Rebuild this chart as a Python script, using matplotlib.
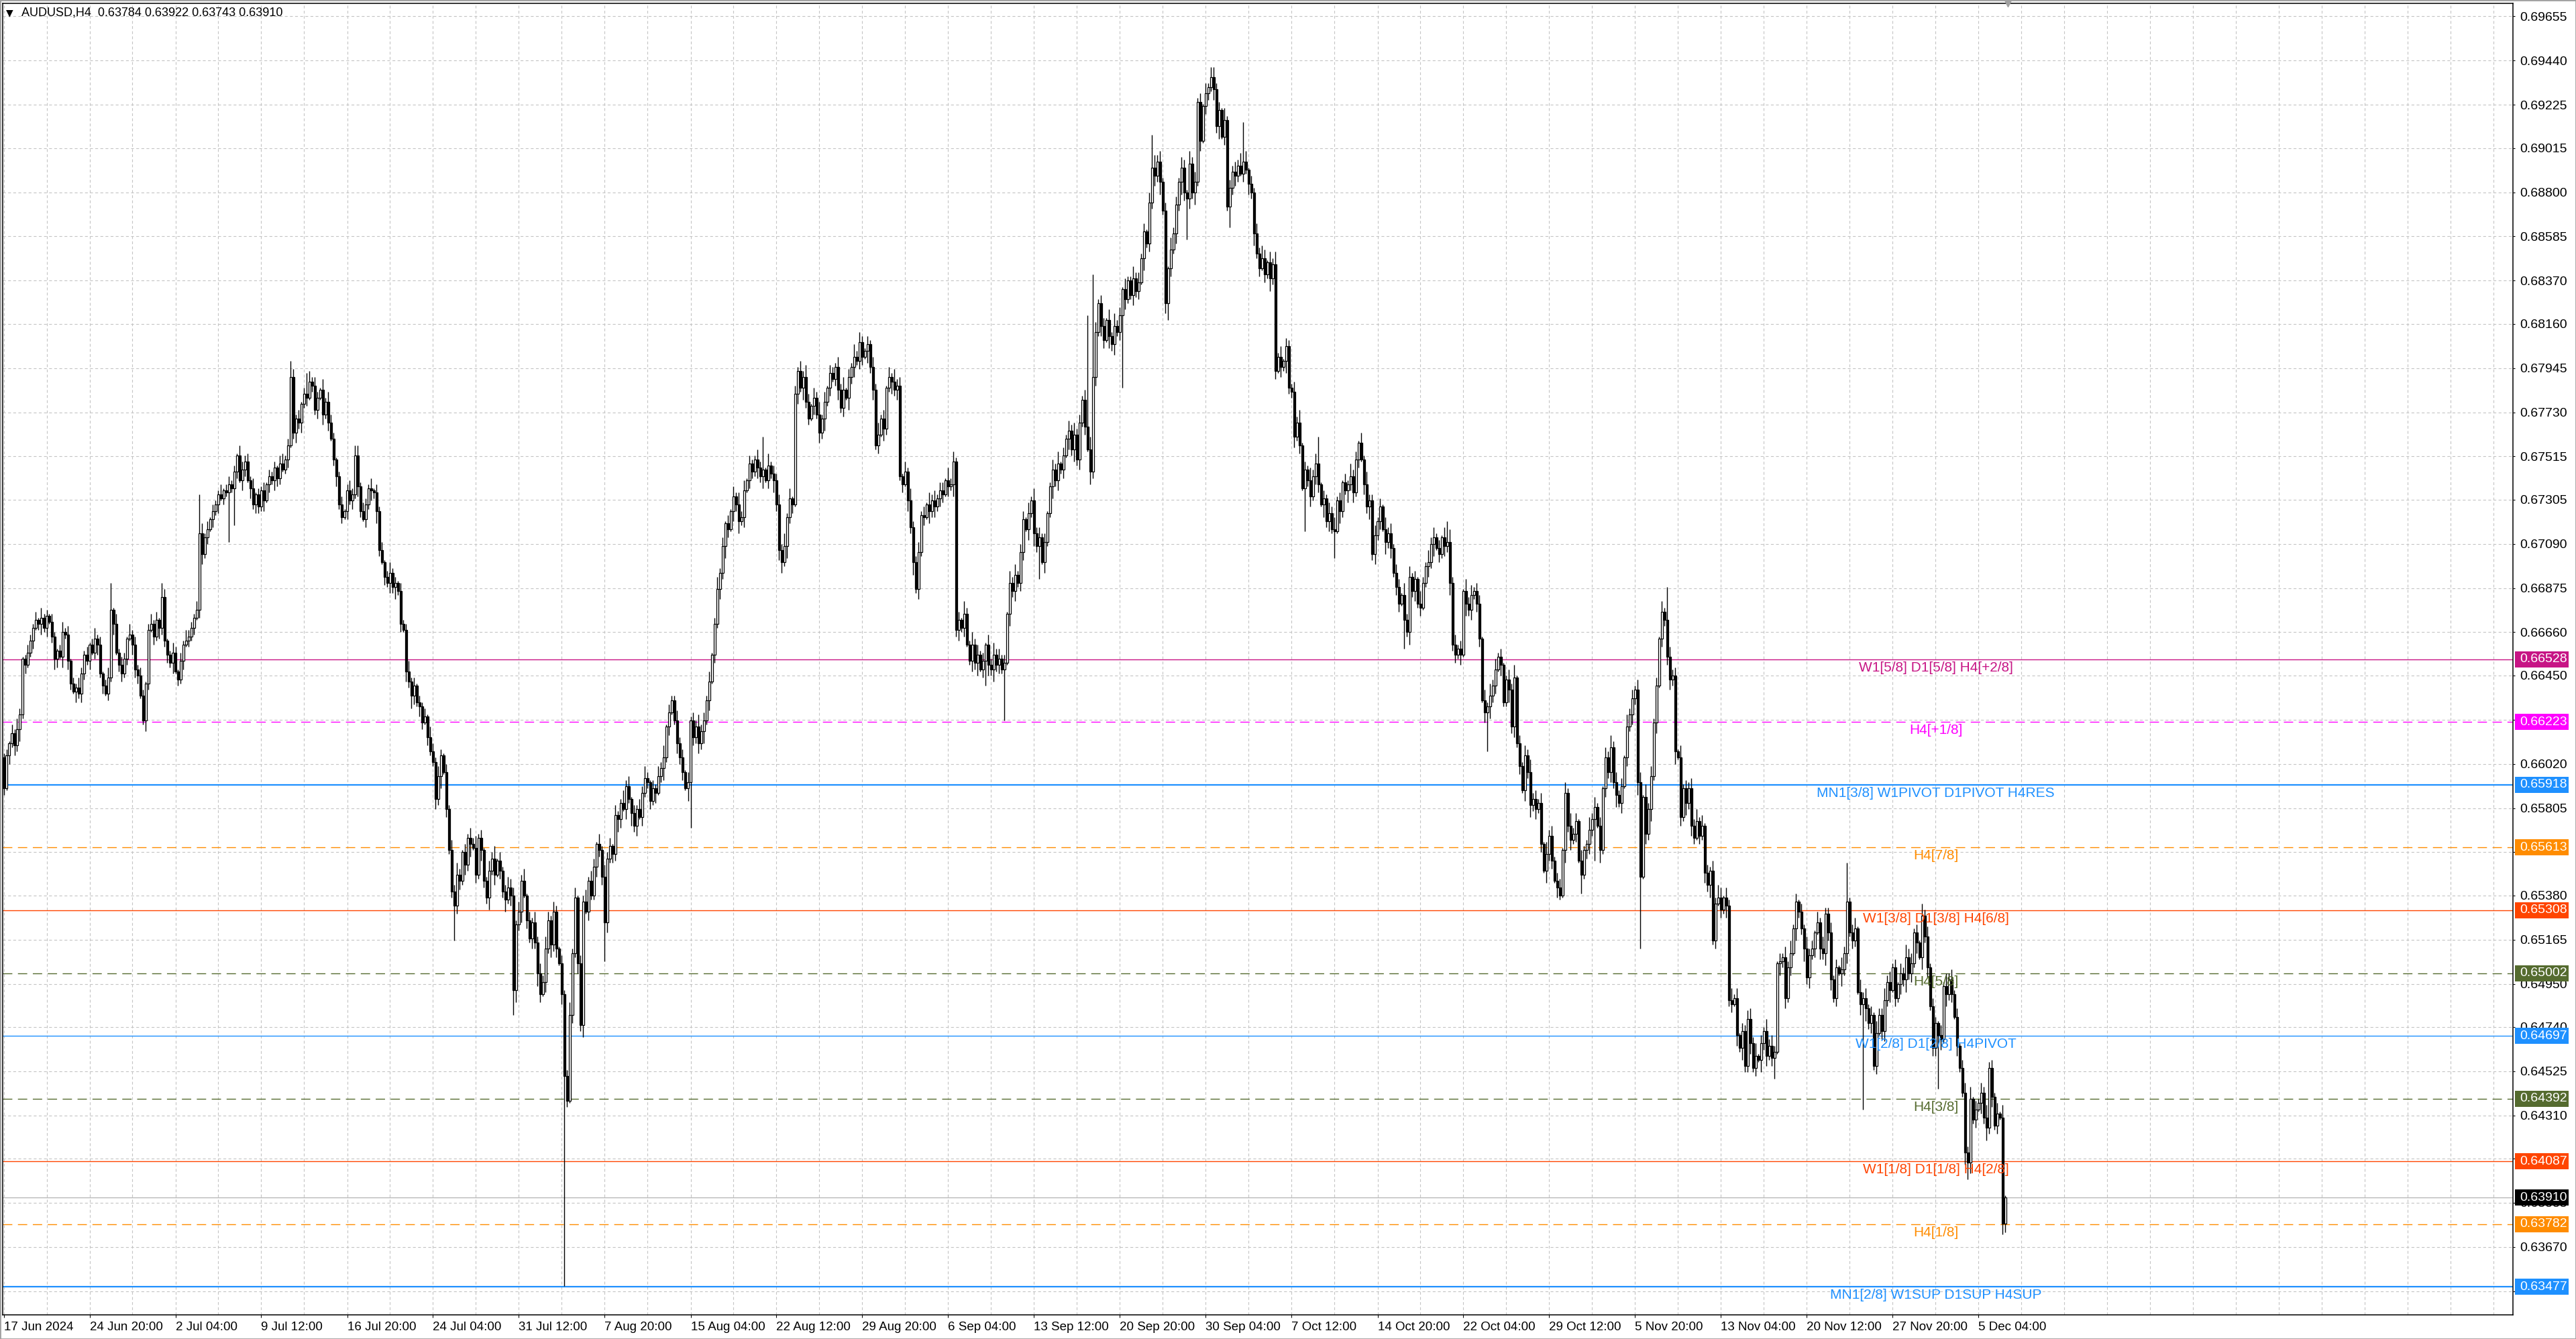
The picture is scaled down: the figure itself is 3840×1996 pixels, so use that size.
import matplotlib
matplotlib.use("Agg")
import matplotlib.pyplot as plt
import matplotlib.transforms as mtransforms
from matplotlib.patches import Rectangle

plt.rcParams["font.family"] = ["Liberation Sans", "DejaVu Sans"]
plt.rcParams["lines.scale_dashes"] = False

# ---------------- data (prices in pips, 1 pip = 0.0001) ----------------
FIRST_OPEN = 6605
CLOSES = [
    6590, 6606, 6612, 6617, 6611, 6619, 6626, 6653, 6650, 6656,
    6662, 6668, 6672, 6670, 6673, 6668, 6674, 6671, 6664, 6653,
    6657, 6654, 6666, 6665, 6652, 6641, 6637, 6639, 6636, 6646,
    6655, 6652, 6660, 6656, 6663, 6660, 6646, 6640, 6636, 6644,
    6677, 6670, 6656, 6650, 6646, 6653, 6663, 6665, 6660, 6648,
    6645, 6635, 6623, 6641, 6667, 6670, 6664, 6672, 6668, 6683,
    6662, 6655, 6651, 6656, 6647, 6643, 6652, 6660, 6662, 6664,
    6668, 6673, 6677, 6714, 6704, 6712, 6716, 6721, 6725, 6728,
    6733, 6731, 6735, 6734, 6738, 6736, 6744, 6752, 6740, 6745,
    6749, 6740, 6736, 6728, 6733, 6727, 6735, 6730, 6738, 6742,
    6740, 6746, 6741, 6748, 6745, 6750, 6757, 6790, 6763, 6770,
    6768, 6777, 6782, 6780, 6788, 6786, 6774, 6780, 6784, 6772,
    6778, 6768, 6760, 6750, 6742, 6728, 6722, 6725, 6735, 6730,
    6733, 6752, 6737, 6725, 6721, 6728, 6736, 6735, 6734, 6725,
    6706, 6700, 6693, 6690, 6695, 6688, 6690, 6686, 6670, 6667,
    6647, 6642, 6635, 6640, 6632, 6630, 6622, 6625, 6615, 6608,
    6603, 6585, 6596, 6606, 6598, 6580, 6560, 6540, 6533, 6548,
    6545, 6559, 6553, 6566, 6563, 6561, 6548, 6566, 6560, 6545,
    6537, 6550, 6556, 6548, 6555, 6550, 6540, 6536, 6542, 6538,
    6492, 6524, 6530, 6545, 6538, 6526, 6517, 6525, 6515, 6500,
    6490, 6496, 6512, 6526, 6514, 6530, 6512, 6505, 6490, 6450,
    6438, 6480, 6510, 6537, 6505, 6475, 6535, 6530, 6545, 6538,
    6552, 6563, 6560, 6547, 6525, 6556, 6562, 6558, 6577, 6575,
    6583, 6580, 6591, 6585, 6578, 6572, 6580, 6576, 6588, 6595,
    6593, 6584, 6590, 6588, 6596, 6600, 6605, 6620, 6627, 6633,
    6623, 6612, 6605, 6598, 6590, 6593, 6623, 6615, 6620, 6612,
    6618, 6623, 6633, 6642, 6655, 6670, 6687, 6695, 6708, 6719,
    6716, 6725, 6732, 6728, 6720, 6722, 6735, 6740, 6748, 6744,
    6750, 6746, 6742, 6745, 6740, 6747, 6743, 6740, 6728, 6706,
    6700, 6708, 6722, 6731, 6728, 6782, 6793, 6785, 6790, 6778,
    6770, 6776, 6780, 6772, 6763, 6770, 6778, 6785, 6792, 6789,
    6795, 6784, 6775, 6784, 6780, 6790, 6795, 6800, 6798, 6807,
    6800, 6803, 6806, 6795, 6784, 6757, 6762, 6770, 6765, 6785,
    6790, 6788, 6784, 6786, 6742, 6738, 6744, 6730, 6717, 6700,
    6687, 6705, 6723, 6722, 6728, 6725, 6730, 6727, 6731, 6735,
    6733, 6740, 6737, 6738, 6749, 6667, 6672, 6668, 6675, 6660,
    6652, 6660, 6651, 6655, 6648, 6652, 6660, 6650, 6648, 6655,
    6650, 6653, 6648, 6651, 6675, 6690, 6686, 6694, 6690, 6705,
    6721, 6716, 6724, 6730, 6714, 6708, 6712, 6700, 6710, 6724,
    6737, 6745, 6740, 6748, 6745, 6752, 6760, 6764, 6755, 6762,
    6750, 6768, 6779, 6766, 6755, 6744, 6790, 6812, 6826, 6815,
    6808, 6818, 6810, 6806, 6815, 6812, 6820, 6833, 6828, 6837,
    6830, 6838, 6832, 6836, 6848, 6861, 6855, 6875, 6892, 6888,
    6895, 6885, 6871, 6826, 6843, 6852, 6860, 6874, 6885, 6892,
    6880, 6877, 6894, 6880, 6885, 6924, 6905, 6922, 6928, 6931,
    6936, 6930, 6912, 6920, 6907, 6915, 6873, 6882, 6890, 6888,
    6893, 6889, 6895, 6891, 6884, 6880, 6860, 6850, 6843, 6848,
    6840, 6846, 6838, 6845, 6793, 6800, 6795, 6798, 6805, 6785,
    6783, 6761, 6768, 6757, 6736, 6745, 6740, 6732, 6742, 6748,
    6738, 6728, 6731, 6720, 6724, 6716, 6715, 6730, 6725, 6739,
    6735, 6738, 6742, 6734, 6750, 6758, 6750, 6738, 6727, 6730,
    6704, 6713, 6720, 6727, 6716, 6710, 6714, 6707, 6695, 6688,
    6680, 6684, 6672, 6666, 6693, 6686, 6692, 6680, 6678, 6690,
    6698, 6700, 6709, 6712, 6707, 6704, 6712, 6708, 6710, 6690,
    6660, 6655, 6658, 6655, 6686, 6680, 6677, 6684, 6686, 6680,
    6663, 6633, 6627, 6630, 6635, 6640, 6648, 6654, 6650, 6632,
    6643, 6638, 6620, 6644, 6612, 6601, 6589, 6606, 6598, 6582,
    6585, 6580, 6583, 6563, 6550, 6558, 6567, 6555, 6545, 6542,
    6538, 6560, 6588, 6572, 6565, 6568, 6574, 6555, 6548, 6560,
    6563, 6570, 6575, 6581, 6572, 6560, 6590, 6605, 6598, 6610,
    6593, 6587, 6583, 6591, 6605, 6620, 6626, 6634, 6638, 6593,
    6547, 6586, 6568, 6580, 6596, 6622, 6640, 6663, 6676, 6672,
    6654, 6643, 6645, 6608, 6605, 6576, 6590, 6583, 6590, 6572,
    6566, 6574, 6567, 6572, 6549, 6543, 6550, 6516, 6534, 6537,
    6531, 6537, 6533, 6487, 6485, 6488, 6470, 6464, 6472, 6455,
    6478, 6466, 6454, 6460, 6458, 6466, 6472, 6460, 6465, 6459,
    6462, 6505, 6506, 6508, 6488, 6503, 6510, 6522, 6535, 6530,
    6522, 6512, 6498, 6509, 6512, 6520, 6525, 6512, 6510, 6529,
    6520, 6497, 6488, 6503, 6500, 6502, 6510, 6535, 6520, 6516,
    6522, 6491, 6485, 6488, 6483, 6476, 6480, 6455, 6471, 6480,
    6472, 6487, 6496, 6492, 6503, 6488, 6495, 6500, 6497, 6508,
    6500, 6505, 6520, 6515, 6508, 6528, 6518, 6503, 6484, 6464,
    6476, 6470, 6468, 6494, 6490, 6497, 6490, 6479, 6465, 6454,
    6442, 6413, 6408, 6439, 6429, 6434, 6437, 6442, 6430, 6425,
    6454, 6440, 6426, 6432, 6430, 6378.4, 6391.0,
]

# wick lengths in pips above / below the body, one digit per bar
WICK_UP = "".join([
    "2314253124", "3241523142", "1352413253", "2413524135", "3152431524",
    "2431352413", "4125314253", "3241524132", "2513423154", "3425132413",
    "2314523142", "4132524315", "2543124135", "3152432514", "2413523142",
    "3524132415", "4253142536", "3142536241", "2536142354", "4253614253",
    "5364253142", "3625143625", "4152634152", "2635142536", "3142536142",
    "2534152436", "3425136241", "4152635142", "2534162435", "3625142536",
    "4153625143", "2536142635", "3142536241", "5263415263", "3524163524",
    "4163524163", "2635241536", "3524163524", "4152635241", "2536142536",
    "3425163524", "4152634152", "2635241536", "3524163425", "4163524152",
    "2534162435", "3625142536", "4153625143", "2536142635", "3142536241",
    "4263415263", "3524163524", "4163524163", "2635241536", "3524163524",
    "4152635241", "2536142536", "3425163524", "4152634152", "2635241536",
    "3524163425", "5163524152", "4534162435", "3625142536", "5153625143",
    "4536142635", "3142536241", "4263415263", "3524163524", "5163524163",
    "3635241536", "4524163524", "3152635241", "4536142536", "3425163",
])
WICK_DN = "".join([
    "3142536241", "2413524135", "4152431524", "3241352413", "2513423154",
    "4125314253", "3425132413", "2314523142", "4132524315", "3152432514",
    "2543124135", "3524132415", "2413523142", "4253142536", "3142536241",
    "5364253142", "2536142354", "4253614253", "3625143625", "2635142536",
    "4152634152", "3142536142", "2534152436", "4152635142", "3425136241",
    "2534162435", "3625142536", "4153625143", "2536142635", "5263415263",
    "3142536241", "3524163524", "4163524163", "2635241536", "3524163524",
    "4152635241", "2536142536", "3425163524", "4152634152", "2635241536",
    "3524163425", "4163524152", "2534162435", "3625142536", "4153625143",
    "2536142635", "3142536241", "4263415263", "3524163524", "4163524163",
    "2635241536", "3524163524", "4152635241", "2536142536", "3425163524",
    "4152634152", "2635241536", "3524163425", "5163524152", "4534162435",
    "3625142536", "5153625143", "4536142635", "3142536241", "4263415263",
    "3524163524", "5163524163", "3635241536", "4524163524", "3152635241",
    "4536142536", "3425163524", "4152634152", "2635241536", "3524163",
])

# long wicks (bar index -> price in pips)
SPIKE_HIGH = {40: 6690, 59: 6690, 73: 6733, 107: 6798, 113: 6792, 131: 6757,
              283: 6761, 404: 6820, 406: 6840, 428: 6908, 450: 6941, 462: 6914,
              490: 6761, 538: 6720, 620: 6688, 687: 6554, 746: 6392.2}
SPIKE_LOW = {84: 6710, 86: 6718, 168: 6516, 190: 6480, 209: 6348, 224: 6506,
             256: 6571, 340: 6685, 361: 6647, 366: 6640, 373: 6623, 386: 6692,
             417: 6785, 434: 6818, 441: 6857, 457: 6863, 485: 6715, 496: 6702,
             522: 6658, 553: 6608, 578: 6544, 580: 6536, 588: 6539, 593: 6555,
             610: 6512, 660: 6449, 693: 6434, 721: 6444, 732: 6400, 745: 6373,
             746: 6374.3}

Y_TICKS = [0.69655, 0.69440, 0.69225, 0.69015, 0.68800, 0.68585, 0.68370,
           0.68160, 0.67945, 0.67730, 0.67515, 0.67305, 0.67090, 0.66875,
           0.66660, 0.66450, 0.66235, 0.66020, 0.65805, 0.65590, 0.65380,
           0.65165, 0.64950, 0.64740, 0.64525, 0.64310, 0.64100, 0.63885,
           0.63670, 0.63455]
# scale values that sit completely under a price box in the reference
Y_HIDDEN = [0.65590, 0.63455]

X_LABELS = ["17 Jun 2024", "24 Jun 20:00", "2 Jul 04:00", "9 Jul 12:00",
            "16 Jul 20:00", "24 Jul 04:00", "31 Jul 12:00", "7 Aug 20:00",
            "15 Aug 04:00", "22 Aug 12:00", "29 Aug 20:00", "6 Sep 04:00",
            "13 Sep 12:00", "20 Sep 20:00", "30 Sep 04:00", "7 Oct 12:00",
            "14 Oct 20:00", "22 Oct 04:00", "29 Oct 12:00", "5 Nov 20:00",
            "13 Nov 04:00", "20 Nov 12:00", "27 Nov 20:00", "5 Dec 04:00"]

LEVEL_PRICES = [0.66528, 0.66223, 0.65918, 0.65613, 0.65308, 0.65002,
                0.64697, 0.64392, 0.64087, 0.63782, 0.63477]
LEVEL_NAMES = ["W1[5/8] D1[5/8] H4[+2/8]", "H4[+1/8]",
               "MN1[3/8] W1PIVOT D1PIVOT H4RES", "H4[7/8]",
               "W1[3/8] D1[3/8] H4[6/8]", "H4[5/8]",
               "W1[2/8] D1[2/8] H4PIVOT", "H4[3/8]",
               "W1[1/8] D1[1/8] H4[2/8]", "H4[1/8]",
               "MN1[2/8] W1SUP D1SUP H4SUP"]
LEVEL_COLORS = ["#C71585", "#FF00FF", "#1E90FF", "#FF8C00", "#FF4500",
                "#556B2F", "#1E90FF", "#556B2F", "#FF4500", "#FF8C00",
                "#1E90FF"]
LEVEL_DASHED = [False, True, False, True, False, True, False, True, False,
                True, False]
LEVEL_WIDTH = [1.0, 1.0, 1.6, 1.0, 1.0, 1.0, 1.0, 1.0, 1.0, 1.0, 1.6]

LAST_PRICE = 0.63910
HEADER = "AUDUSD,H4  0.63784 0.63922 0.63743 0.63910"

# ---------------- layout (pixels) ----------------
W, H = 3840, 1996
AX_L, AX_R, AX_T, AX_B = 4, 3746, 5, 1960
BAR0_PX, BAR_PX = 5.5, 4.0
Y_TOP, Y_BOTTOM = 0.697186, 0.633401
GRID = "#c4c4c4"
LABEL_BAR = 720

fig = plt.figure(figsize=(W / 100, H / 100), dpi=100)
fig.patch.set_facecolor("white")
ax = fig.add_axes([AX_L / W, 1 - AX_B / H, (AX_R - AX_L) / W, (AX_B - AX_T) / H])
ax.set_xlim((AX_L - BAR0_PX) / BAR_PX, (AX_R - BAR0_PX) / BAR_PX)
ax.set_ylim(Y_BOTTOM, Y_TOP)
for s in ax.spines.values():
    s.set_linewidth(1.1)
    s.set_color("black")

# grid
for v in Y_TICKS:
    ax.axhline(v, color=GRID, lw=0.8, ls=(0, (3, 2.5)), zorder=0)
xmax = ax.get_xlim()[1]
k = 0
while 16 * k <= xmax:
    ax.axvline(16 * k, color=GRID, lw=0.8, ls=(0, (3, 2.5)), zorder=0)
    k += 1

# candles
n = len(CLOSES)
opens = [FIRST_OPEN] + CLOSES[:-1]
xs, lows, highs = [], [], []
bull_x, bull_b, bull_h, bear_x, bear_b, bear_h = [], [], [], [], [], []
for i in range(n):
    o, c = opens[i], CLOSES[i]
    up = int(WICK_UP[i]) if i < len(WICK_UP) else 2
    dn = int(WICK_DN[i]) if i < len(WICK_DN) else 2
    hi = SPIKE_HIGH.get(i, max(o, c) + up)
    lo = SPIKE_LOW.get(i, min(o, c) - dn)
    xs.append(i)
    highs.append(hi / 1e4)
    lows.append(lo / 1e4)
    if c >= o:
        bull_x.append(i); bull_b.append(o / 1e4); bull_h.append((c - o) / 1e4)
    else:
        bear_x.append(i); bear_b.append(c / 1e4); bear_h.append((o - c) / 1e4)

ax.vlines(xs, lows, highs, color="black", lw=1.0, zorder=3, snap=True)
ax.bar(bull_x, bull_h, bottom=bull_b, width=0.6, facecolor="white",
       edgecolor="black", lw=0.9, zorder=4)
ax.bar(bear_x, bear_h, bottom=bear_b, width=0.6, facecolor="black",
       edgecolor="black", lw=0.9, zorder=4)

# current price line
ax.axhline(LAST_PRICE, color="#b8b8b8", lw=1.0, zorder=2)

# Murrey / pivot levels
below = mtransforms.offset_copy(ax.transData, fig=fig, x=0, y=-3, units="dots")
for p, name, col, dashed, lw in zip(LEVEL_PRICES, LEVEL_NAMES, LEVEL_COLORS,
                                    LEVEL_DASHED, LEVEL_WIDTH):
    ls = (0, (10, 6)) if dashed else "-"
    ax.axhline(p, color=col, lw=lw, ls=ls, zorder=2)
    ax.text(LABEL_BAR, p, name, color=col, fontsize=15, ha="center", va="top",
            transform=below, zorder=5)

# axes ticks
ax.yaxis.tick_right()
ax.set_yticks(Y_TICKS)
ax.set_yticklabels(["" if v in Y_HIDDEN else f"{v:.5f}" for v in Y_TICKS])
ax.tick_params(axis="y", direction="out", length=2.5, width=0.8, pad=5,
               labelsize=14, colors="black")
ax.set_xticks([32 * j for j in range(len(X_LABELS))])
ax.set_xticklabels(X_LABELS, ha="left")
ax.tick_params(axis="x", direction="out", length=3, width=0.8, pad=4,
               labelsize=13.5, colors="black")

# price boxes on the right scale
blend = mtransforms.blended_transform_factory(fig.transFigure, ax.transData)
box_h = 24 * (Y_TOP - Y_BOTTOM) / (AX_B - AX_T)
box_prices = LEVEL_PRICES + [LAST_PRICE]
box_colors = LEVEL_COLORS + ["black"]
for p, col in zip(box_prices, box_colors):
    ax.add_patch(Rectangle((3748.5 / W, p - box_h / 2), 80.5 / W, box_h,
                           transform=blend, facecolor=col, edgecolor="none",
                           clip_on=False, zorder=10))
    ax.text(3756 / W, p, f"{p:.5f}", color="white", fontsize=14, va="center",
            ha="left", transform=blend, clip_on=False, zorder=11)

# chart shift marker
ax.plot([n], [Y_TOP], marker="v", color="#a0a0a0", ms=7, clip_on=False, zorder=6)

# header
fig.text(9 / W, 1 - 19 / H, "\u25bc", fontsize=10, va="center",
         family=["DejaVu Sans"])
fig.text(32 / W, 1 - 19 / H, HEADER, fontsize=13, va="center")

# outer frame
fig.patches.append(Rectangle((0, 0), 1, 1, transform=fig.transFigure, fill=False,
                             edgecolor="#a0a0a0", lw=2))

fig.savefig("out.png", dpi=100)
